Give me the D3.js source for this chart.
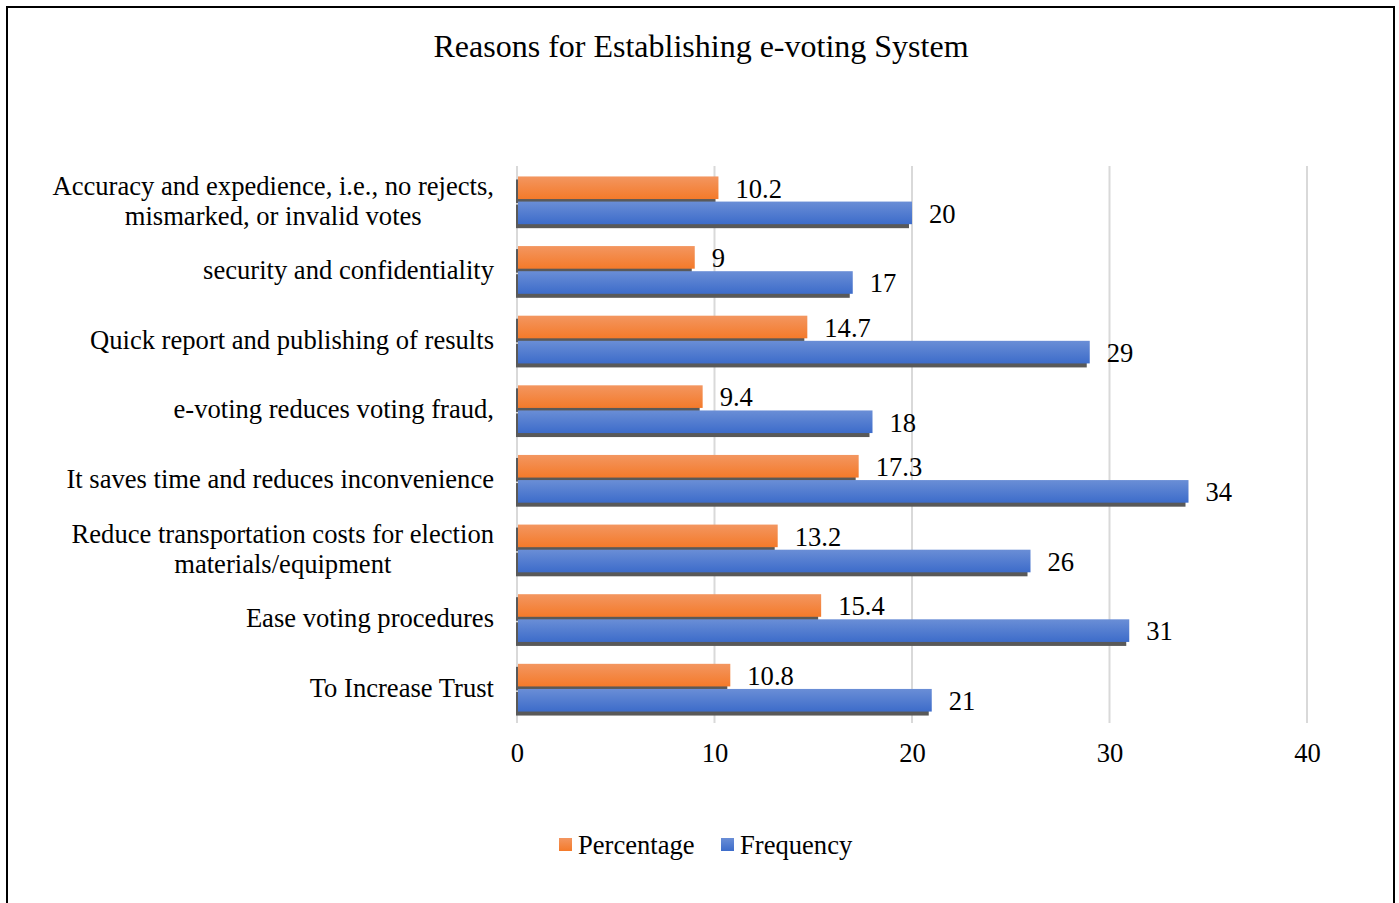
<!DOCTYPE html>
<html>
<head>
<meta charset="utf-8">
<script src="https://cdn.jsdelivr.net/npm/d3@7"></script>
<style>
  body { margin: 0; background: #fff; }
  svg text { font-family: "Liberation Serif", "Times New Roman", serif; fill: #000; }
</style>
</head>
<body>
<svg id="chart" width="1399" height="903"></svg>
<script>
const width = 1399, height = 903;

// data, top to bottom
const categories = [
  ['Accuracy and expedience, i.e., no rejects,', 'mismarked, or invalid votes'],
  ['security and confidentiality'],
  ['Quick report and publishing of results'],
  ['e-voting reduces voting fraud,'],
  ['It saves time and reduces inconvenience'],
  ['Reduce transportation costs for election', 'materials/equipment'],
  ['Ease voting procedures'],
  ['To Increase Trust']
];
const percentage = [10.2, 9, 14.7, 9.4, 17.3, 13.2, 15.4, 10.8];
const frequency  = [20, 17, 29, 18, 34, 26, 31, 21];
const seriesNames = ['Percentage', 'Frequency'];
const xTicks = [0, 10, 20, 30, 40];

const fontSize = '26.6px';
const margin = {left: 517, right: 92, top: 166, bottom: 180};
const svg = d3.select('#chart');

// outer frame
svg.append('rect')
  .attr('x', 7).attr('y', 7)
  .attr('width', 1387).attr('height', 920)
  .attr('fill', 'none').attr('stroke', '#000').attr('stroke-width', 2);

const defs = svg.append('defs');
const grad = (id, top, bottom) => {
  const g = defs.append('linearGradient').attr('id', id)
    .attr('x1', 0).attr('y1', 0).attr('x2', 0).attr('y2', 1);
  g.append('stop').attr('offset', '0%').attr('stop-color', top);
  g.append('stop').attr('offset', '100%').attr('stop-color', bottom);
};
grad('gOrange', '#f39660', '#f47a2a');
grad('gBlue', '#6a8ed6', '#3d6cca');

const x = d3.scaleLinear()
  .domain([0, 40])
  .range([margin.left, width - margin.right]);

const y = d3.scaleBand()
  .domain(d3.range(categories.length))
  .range([margin.top, height - margin.bottom])
  .paddingInner(0.3).paddingOuter(0.15);

const sub = d3.scaleBand()
  .domain([0, 1])
  .range([0, y.bandwidth()])
  .paddingInner(0.06);

// title
svg.append('text')
  .attr('x', 701).attr('y', 57)
  .attr('text-anchor', 'middle')
  .style('font-size', '32px')
  .text('Reasons for Establishing e-voting System');

// gridlines
svg.append('g').selectAll('line')
  .data(xTicks)
  .join('line')
  .attr('x1', d => x(d)).attr('x2', d => x(d))
  .attr('y1', margin.top).attr('y2', height - margin.bottom)
  .attr('stroke', '#d9d9d9').attr('stroke-width', 2);

// x axis labels
const xAxis = d3.axisBottom(x).tickValues(xTicks).tickSize(0).tickPadding(0);
const gx = svg.append('g')
  .attr('transform', `translate(0,${height - margin.bottom + 20})`)
  .call(xAxis);
gx.select('.domain').remove();
gx.selectAll('text')
  .style('font-size', fontSize)
  .style('font-family', '"Liberation Serif", serif')
  .attr('dy', '0.72em');

// bars
const series = [percentage, frequency];
const fills = ['url(#gOrange)', 'url(#gBlue)'];
series.forEach((vals, s) => {
  const g = svg.append('g');
  const rows = g.selectAll('g').data(vals).join('g')
    .attr('transform', (d, i) => `translate(0,${y(i) + sub(s)})`);
  // drop shadow
  rows.append('rect')
    .attr('x', x(0) - 1)
    .attr('y', 3)
    .attr('width', d => x(d) - x(0) - 2)
    .attr('height', sub.bandwidth())
    .attr('fill', '#595959');
  rows.append('rect')
    .attr('x', x(0) + 1)
    .attr('y', 0)
    .attr('width', d => x(d) - x(0) - 1)
    .attr('height', sub.bandwidth() - 1)
    .attr('fill', fills[s]);
  rows.append('text')
    .attr('x', d => x(d) + 17)
    .attr('y', sub.bandwidth() / 2)
    .attr('dy', '0.35em')
    .style('font-size', fontSize)
    .text(d => d);
});

// category labels (lines centered on each other, block right aligned)
const labels = svg.append('g');
categories.forEach((lines, i) => {
  const cy = y(i) + y.bandwidth() / 2;
  const t = labels.append('text')
    .attr('text-anchor', 'middle')
    .style('font-size', fontSize);
  lines.forEach((ln, j) => {
    t.append('tspan')
      .attr('y', cy + (j - (lines.length - 1) / 2) * 30)
      .attr('dy', '0.33em')
      .text(ln);
  });
  let maxW = 0;
  t.selectAll('tspan').each(function () {
    maxW = Math.max(maxW, this.getComputedTextLength());
  });
  t.selectAll('tspan').attr('x', margin.left - 23 - maxW / 2);
});

// legend
const legend = svg.append('g');
const legendX = [559, 721];
seriesNames.forEach((name, s) => {
  legend.append('rect')
    .attr('x', legendX[s]).attr('y', 838)
    .attr('width', 13).attr('height', 13)
    .attr('fill', fills[s]);
  legend.append('text')
    .attr('x', legendX[s] + 19).attr('y', 845)
    .attr('dy', '0.33em')
    .style('font-size', fontSize)
    .text(name);
});
</script>
</body>
</html>
